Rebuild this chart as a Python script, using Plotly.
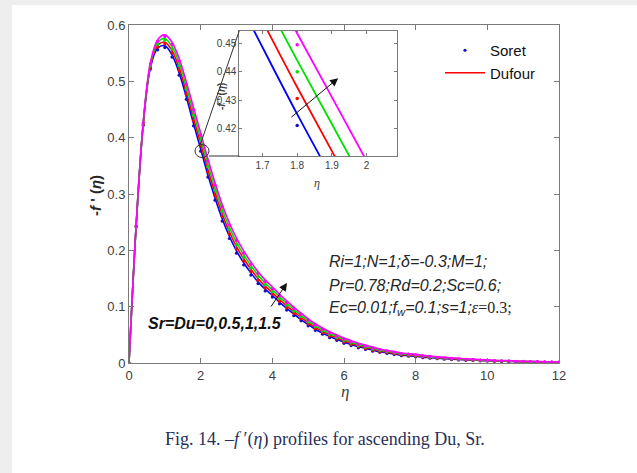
import plotly.graph_objects as go

# ---------------- data ----------------
eta = [0.0, 0.2, 0.4, 0.6, 0.8, 1.0, 1.2, 1.4, 1.6, 1.8, 2.0, 2.2, 2.4, 2.6, 2.8,
       3.0, 3.2, 3.4, 3.6, 3.8, 4.0, 4.2, 4.4, 4.6, 4.8, 5.0, 5.2, 5.4, 5.6, 5.8,
       6.0, 6.2, 6.4, 6.6, 6.8, 7.0, 7.2, 7.4, 7.6, 7.8, 8.0, 8.2, 8.4, 8.6, 8.8,
       9.0, 9.2, 9.4, 9.6, 9.8, 10.0, 10.2, 10.4, 10.6, 10.8, 11.0, 11.2, 11.4,
       11.6, 11.8, 12.0]

# Dufour (lines) for Sr=Du = 0, 0.5, 1, 1.5
dufour_0 = [0, .244, .425, .525, .559, .563, .547, .515, .472, .425, .380, .334, .293, .256, .225,
            .199, .178, .160, .144, .131, .120, .108, .097, .087, .077, .068, .060, .053, .047, .042,
            .037, .033, .029, .026, .023, .020, .018, .016, .014, .013, .012, .0105, .0095, .0085, .0077,
            .0069, .0062, .0056, .005, .0045, .004, .0036, .0032, .0028, .0025, .0022, .002, .0018,
            .0016, .0014, .0013]
dufour_05 = [0, .2445, .4265, .528, .564, .5695, .5545, .5235, .481, .4345, .3895, .3435, .302, .2645, .233,
             .2065, .185, .1665, .150, .1365, .125, .1127, .1014, .0911, .0808, .0715, .0632, .056, .0498, .0446,
             .0394, .0352, .031, .0279, .0248, .0216, .0195, .0174, .0153, .0142, .0131, .0115, .0104, .0093, .0085,
             .0076, .0069, .0062, .0056, .005, .0045, .004, .0036, .0032, .0028, .0025, .0023, .0021,
             .0018, .0016, .0015]
dufour_1 = [0, .245, .428, .531, .569, .576, .562, .532, .490, .444, .399, .353, .311, .273, .241,
            .214, .192, .173, .156, .142, .130, .1174, .1058, .0952, .0846, .075, .0664, .059, .0526, .0472,
            .0418, .0374, .033, .0298, .0266, .0232, .021, .0188, .0166, .0154, .0142, .0125, .0113, .0101, .0093,
            .0083, .0076, .0068, .0062, .0055, .005, .0044, .004, .0036, .0031, .0028, .0026, .0024,
            .002, .0018, .0017]
dufour_15 = [0, .2455, .4295, .534, .574, .5825, .5695, .5405, .499, .4535, .4085, .3625, .320, .2815, .249,
             .2215, .199, .1795, .162, .1475, .135, .1221, .1102, .0993, .0884, .0785, .0696, .062, .0554, .0498,
             .0442, .0396, .035, .0317, .0284, .0248, .0225, .0202, .0179, .0166, .0153, .0135, .0122, .0109, .0101,
             .009, .0083, .0074, .0068, .006, .0055, .0048, .0044, .004, .0034, .0031, .0029, .0027,
             .0022, .002, .0019]

# Soret (dots) for Sr=Du = 0, 0.5, 1, 1.5
soret_0 = [0, .242, .422, .522, .556, .560, .543, .511, .468, .421, .376, .330, .289, .252, .221,
           .195, .174, .156, .141, .128, .117, .105, .094, .084, .075, .066, .058, .051, .045, .040,
           .035, .031, .027, .024, .021, .019, .017, .015, .013, .012, .011, .0095, .0085, .0076, .0068,
           .006, .0054, .0048, .0043, .0038, .0034, .003, .0027, .0024, .0021, .0019, .0017, .0015,
           .0013, .0012, .0011]
soret_05 = [0, .2425, .4235, .525, .561, .5665, .5505, .5195, .477, .4305, .3855, .3395, .298, .2605, .229,
            .2025, .181, .1625, .147, .1335, .122, .1097, .0984, .0881, .0788, .0695, .0612, .054, .0478, .0426,
            .0374, .0332, .029, .0259, .0228, .0206, .0185, .0164, .0143, .0132, .0121, .0105, .0094, .0084, .0076,
            .0067, .0061, .0054, .0049, .0043, .0039, .0034, .0031, .0028, .0024, .0022, .002, .0018,
            .0015, .0014, .0013]
soret_1 = [0, .243, .425, .528, .566, .573, .558, .528, .486, .440, .395, .349, .307, .269, .237,
           .210, .188, .169, .153, .139, .127, .1144, .1028, .0922, .0826, .073, .0644, .057, .0506, .0452,
           .0398, .0354, .031, .0278, .0246, .0222, .02, .0178, .0156, .0144, .0132, .0115, .0103, .0092, .0084,
           .0074, .0068, .006, .0055, .0048, .0044, .0038, .0035, .0032, .0027, .0025, .0023, .0021,
           .0017, .0016, .0015]
soret_15 = [0, .2435, .4265, .531, .571, .5795, .5655, .5365, .495, .4495, .4045, .3585, .316, .2775, .245,
            .2175, .195, .1755, .159, .1445, .132, .1191, .1072, .0963, .0864, .0765, .0676, .060, .0534, .0478,
            .0422, .0376, .033, .0297, .0264, .0238, .0215, .0192, .0169, .0156, .0143, .0125, .0112, .01, .0092,
            .0081, .0075, .0066, .0061, .0053, .0049, .0042, .0039, .0036, .003, .0028, .0026, .0024,
            .0019, .0018, .0017]

x_ticks = [0, 2, 4, 6, 8, 10, 12]
y_ticks = [0, 0.1, 0.2, 0.3, 0.4, 0.5, 0.6]
inset_x_ticks = [1.7, 1.8, 1.9, 2.0]
inset_x_labels = ["1.7", "1.8", "1.9", "2"]
inset_y_ticks = [0.42, 0.43, 0.44, 0.45]

# ---------------- layout geometry (pixels) ----------------
W, H = 637, 473
L, R, T, B = 129, 559, 25, 363
PW, PH = R - L, B - T


def px(x):
    return (x - L) / PW


def py(y):
    return (B - y) / PH


colors = ["#0000FF", "#FF0000", "#00E000", "#FF00FF"]
dufour = [dufour_0, dufour_05, dufour_1, dufour_15]
soret = [soret_0, soret_05, soret_1, soret_15]

fig = go.Figure()

for axes in [("x", "y"), ("x2", "y2")]:
    main = axes[0] == "x"
    for k in range(4):
        fig.add_trace(go.Scatter(
            x=eta, y=dufour[k], mode="lines", xaxis=axes[0], yaxis=axes[1],
            line=dict(color=colors[k], width=1.6 if main else 1.8, shape="spline", smoothing=1.0),
            name="Dufour", showlegend=(main and k == 1), legendrank=2, hoverinfo="skip"))
        fig.add_trace(go.Scatter(
            x=eta, y=soret[k], mode="markers", xaxis=axes[0], yaxis=axes[1],
            marker=dict(color=colors[k] if k else "#1010C0", size=3.2 if main else 3.5),
            name="Soret", showlegend=(main and k == 0), legendrank=1, hoverinfo="skip"))

axis_common = dict(showline=True, linecolor="#7a7a7a", linewidth=1, mirror="ticks",
                   ticks="inside", tickcolor="#7a7a7a", showgrid=False, zeroline=False)

fig.update_layout(
    width=W, height=H,
    margin=dict(l=L, r=W - R, t=T, b=H - B),
    paper_bgcolor="white", plot_bgcolor="white",
    font=dict(family="Liberation Sans, Arial", color="#404040"),
    xaxis=dict(range=[0, 12], tickvals=x_ticks, ticklen=5, tickfont=dict(size=13), **axis_common),
    yaxis=dict(range=[0, 0.6], tickvals=y_ticks, ticklen=5, tickfont=dict(size=13), **axis_common),
    xaxis2=dict(domain=[px(239.3), px(396.7)], anchor="y2", range=[1.633, 2.087],
                tickvals=inset_x_ticks, ticktext=inset_x_labels, ticklen=3,
                tickfont=dict(size=10), **axis_common),
    yaxis2=dict(domain=[py(156), py(30.7)], anchor="x2", range=[0.4102, 0.4545],
                tickvals=inset_y_ticks, ticklen=3, tickfont=dict(size=10), **axis_common),
    legend=dict(x=px(440), y=py(34), xanchor="left", yanchor="top", bgcolor="rgba(0,0,0,0)",
                font=dict(size=15, color="#111111", family="Liberation Sans, Arial"),
                itemwidth=40, tracegroupgap=0),
    showlegend=True,
)

# light grey page edges
fig.add_shape(type="rect", xref="paper", yref="paper", x0=px(0), x1=px(12), y0=py(473), y1=py(0),
              fillcolor="#eeeeee", line=dict(width=0), layer="below")
fig.add_shape(type="rect", xref="paper", yref="paper", x0=px(0), x1=px(637), y0=py(5), y1=py(0),
              fillcolor="#eeeeee", line=dict(width=0), layer="below")

# zoom circle and connectors
cx, cy = (202 - L) / PW * 12, (B - 151) / PH * 0.6
rx, ry = 7 / PW * 12, 6.5 / PH * 0.6
fig.add_shape(type="circle", xref="x", yref="y", x0=cx - rx, x1=cx + rx, y0=cy - ry, y1=cy + ry,
              line=dict(color="#333333", width=1))
fig.add_shape(type="line", xref="paper", yref="paper", x0=px(200.5), y0=py(144), x1=px(239.3), y1=py(30.7),
              line=dict(color="#333333", width=1))
fig.add_shape(type="line", xref="paper", yref="paper", x0=px(209), y0=py(156), x1=px(239.3), y1=py(156),
              line=dict(color="#333333", width=1))

ann = []
# arrows
ann.append(dict(xref="x", yref="y", axref="x", ayref="y",
                x=(287 - L) / PW * 12, y=(B - 283) / PH * 0.6,
                ax=(270 - L) / PW * 12, ay=(B - 308) / PH * 0.6,
                text="", showarrow=True, arrowhead=2, arrowsize=1.6, arrowwidth=1, arrowcolor="#111111"))
ann.append(dict(xref="x2", yref="y2", axref="x2", ayref="y2",
                x=1.918, y=0.4377, ax=1.779, ay=0.4235,
                text="", showarrow=True, arrowhead=2, arrowsize=1.6, arrowwidth=1, arrowcolor="#111111"))

param_font = dict(family="Liberation Sans, Arial", size=16, color="#262626")
ann.append(dict(xref="paper", yref="paper", x=px(327), y=py(261.7), xanchor="left", yanchor="middle",
                text="<i>Ri=1;N=1;δ=-0.3;M=1;</i>", showarrow=False, font=param_font))
ann.append(dict(xref="paper", yref="paper", x=px(327), y=py(285), xanchor="left", yanchor="middle",
                text="<i>Pr=0.78;Rd=0.2;Sc=0.6;</i>", showarrow=False, font=param_font))
ann.append(dict(xref="paper", yref="paper", x=px(327), y=py(308.3), xanchor="left", yanchor="middle",
                text="<i>Ec=0.01;f<sub>w</sub>=0.1;s=1;</i>"
                     "<span style='font-family:Liberation Serif'><i>ε</i>=0.3;</span>",
                showarrow=False, font=param_font))
ann.append(dict(xref="paper", yref="paper", x=px(146), y=py(323), xanchor="left", yanchor="middle",
                text="<b><i>Sr=Du=0,0.5,1,1.5</i></b>", showarrow=False,
                font=dict(family="Liberation Sans, Arial", size=16, color="#111111")))

# axis titles
ann.append(dict(xref="paper", yref="paper", x=px(95), y=py(196), xanchor="center", yanchor="middle",
                textangle=-90, text="<b>-<i>f</i> ' (<i>η</i>)</b>", showarrow=False,
                font=dict(family="Liberation Sans, Arial", size=15, color="#262626")))
ann.append(dict(xref="paper", yref="paper", x=px(345), y=py(391), xanchor="center", yanchor="middle",
                text="<i>η</i>", showarrow=False,
                font=dict(family="Liberation Serif, Times New Roman", size=17, color="#404040")))
ann.append(dict(xref="paper", yref="paper", x=px(317), y=py(183), xanchor="center", yanchor="middle",
                text="<i>η</i>", showarrow=False,
                font=dict(family="Liberation Serif, Times New Roman", size=12, color="#404040")))
ann.append(dict(xref="paper", yref="paper", x=px(222), y=py(97), xanchor="center", yanchor="middle",
                textangle=-90, text="<b>-<i>f</i> ' (<i>η</i>)</b>", showarrow=False,
                font=dict(family="Liberation Sans, Arial", size=10, color="#404040")))

# caption
ann.append(dict(xref="paper", yref="paper", x=px(325), y=py(439), xanchor="center", yanchor="middle",
                text="Fig. 14. –<i>f</i> ′(<i>η</i>) profiles for ascending Du, Sr.", showarrow=False,
                font=dict(family="Liberation Serif, Times New Roman", size=18, color="#27305c")))

fig.update_layout(annotations=ann)

fig.write_html("out.html", config={"displayModeBar": False},
               post_script="document.body.style.margin='0';document.body.style.overflow='hidden';")
